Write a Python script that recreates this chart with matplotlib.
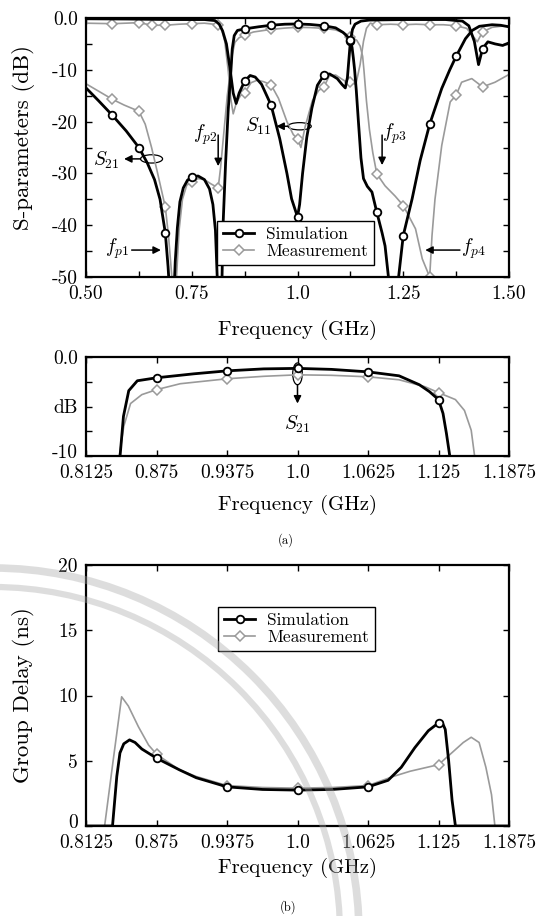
import numpy as np
import matplotlib
matplotlib.use("Agg")
import matplotlib.pyplot as plt
from matplotlib.patches import Ellipse, Arc
from matplotlib.transforms import ScaledTranslation

plt.rcParams["font.family"] = ["cmr10", "DejaVu Serif"]
plt.rcParams["mathtext.fontset"] = "cm"
plt.rcParams["axes.unicode_minus"] = False
plt.rcParams["axes.formatter.use_mathtext"] = True

# ---------------- (a) S-parameters, wide band ----------------
s21_sim_f = [0.500, 0.530, 0.5625, 0.595, 0.625, 0.645, 0.662, 0.675, 0.6875, 0.694,
             0.697, 0.7025, 0.707, 0.711, 0.716, 0.722, 0.730, 0.740, 0.750, 0.765,
             0.780, 0.792, 0.800, 0.806, 0.8125, 0.818, 0.824, 0.830, 0.836, 0.8427,
             0.8457, 0.8504, 0.858, 0.875, 0.908, 0.9375, 0.970, 1.000, 1.030, 1.0625,
             1.090, 1.108, 1.117, 1.125, 1.129, 1.132, 1.135, 1.139, 1.144, 1.150,
             1.156, 1.165, 1.176, 1.1875, 1.200, 1.207, 1.215, 1.227, 1.239, 1.250,
             1.271, 1.290, 1.3125, 1.341, 1.360, 1.375, 1.397, 1.413, 1.430, 1.460,
             1.480, 1.500]
s21_sim_db = [-13.5, -16.0, -18.8, -21.8, -25.0, -28.0, -31.2, -35.0, -41.5, -48.0,
              -52.0, -70.0, -55.0, -47.0, -40.5, -35.5, -32.8, -31.3, -30.7, -30.5,
              -31.2, -33.0, -36.0, -41.0, -55.0, -65.0, -40.0, -28.0, -18.0, -10.0,
              -6.0, -3.4, -2.4, -2.1, -1.7, -1.4, -1.2, -1.15, -1.25, -1.5,
              -1.9, -2.8, -3.5, -4.3, -5.7, -7.7, -10.0, -14.0, -20.0, -27.0,
              -31.0, -32.5, -33.6, -37.5, -41.5, -44.0, -50.0, -70.0, -50.0, -42.0,
              -34.9, -27.5, -20.5, -13.6, -10.0, -7.4, -4.0, -2.4, -1.6, -1.3,
              -1.4, -1.7]
s21_sim_marks = [0.5625, 0.625, 0.6875, 0.75, 0.875, 0.9375, 1.0, 1.0625, 1.125,
                 1.1875, 1.25, 1.3125, 1.375]

s21_meas_f = [0.500, 0.5625, 0.590, 0.625, 0.640, 0.655, 0.668, 0.6875, 0.695, 0.703,
              0.708, 0.714, 0.720, 0.728, 0.738, 0.750, 0.765, 0.780, 0.795, 0.8125,
              0.818, 0.826, 0.834, 0.8395, 0.842, 0.846, 0.852, 0.862, 0.875, 0.896,
              0.9375, 0.970, 1.000, 1.030, 1.0625, 1.090, 1.113, 1.125, 1.140, 1.148,
              1.154, 1.157, 1.163, 1.170, 1.178, 1.1875, 1.207, 1.231, 1.250, 1.279,
              1.295, 1.3125, 1.318, 1.325, 1.341, 1.361, 1.375, 1.388, 1.412, 1.4375,
              1.467, 1.500]
s21_meas_db = [-12.7, -15.7, -16.8, -18.0, -20.5, -25.0, -29.5, -36.5, -42.0, -50.0,
               -58.0, -50.0, -41.0, -35.0, -32.3, -31.6, -31.0, -31.2, -32.0, -32.8,
               -29.0, -22.0, -15.0, -11.5, -10.0, -7.0, -4.7, -3.8, -3.3, -2.7,
               -2.2, -1.95, -1.8, -1.85, -2.0, -2.3, -3.0, -3.6, -4.3, -5.4,
               -7.4, -10.0, -16.0, -21.5, -26.0, -30.1, -32.4, -34.4, -36.2, -40.7,
               -46.5, -50.0, -42.0, -35.0, -24.6, -16.2, -14.9, -12.4, -11.7, -13.3,
               -12.4, -10.9]
s21_meas_marks = [0.5625, 0.625, 0.6875, 0.75, 0.8125, 0.875, 0.9375, 1.0, 1.0625,
                  1.125, 1.1875, 1.25, 1.3125, 1.375, 1.4375]

s11_sim_f = [0.500, 0.600, 0.700, 0.780, 0.805, 0.815, 0.823, 0.832, 0.840, 0.848,
             0.855, 0.862, 0.875, 0.888, 0.900, 0.915, 0.9375, 0.958, 0.975, 0.986,
             1.000, 1.005, 1.012, 1.022, 1.034, 1.047, 1.0625, 1.076, 1.094, 1.105,
             1.113, 1.118, 1.122, 1.125, 1.130, 1.136, 1.150, 1.170, 1.250, 1.350,
             1.390, 1.405, 1.418, 1.428, 1.4375, 1.450, 1.467, 1.485, 1.500]
s11_sim_db = [-0.15, -0.2, -0.3, -0.3, -0.5, -1.2, -2.5, -5.0, -9.5, -14.5,
              -16.5, -14.5, -12.2, -11.1, -11.4, -12.8, -16.8, -23.3, -30.0, -34.9,
              -38.4, -36.0, -30.0, -23.0, -17.4, -13.0, -11.0, -10.8, -11.7, -12.8,
              -13.5, -11.5, -7.5, -4.5, -2.2, -1.2, -0.6, -0.4, -0.3, -0.3,
              -0.6, -1.5, -4.5, -9.0, -5.9, -4.6, -5.0, -5.3, -4.8]
s11_sim_marks = [0.875, 0.9375, 1.0, 1.0625, 1.125, 1.4375]

s11_meas_f = [0.500, 0.5625, 0.625, 0.65625, 0.6875, 0.720, 0.750, 0.780, 0.8125, 0.820,
              0.828, 0.836, 0.843, 0.848, 0.855, 0.865, 0.875, 0.890, 0.905, 0.920,
              0.9375, 0.955, 0.975, 0.990, 1.000, 1.008, 1.018, 1.035, 1.050, 1.0625,
              1.075, 1.090, 1.105, 1.115, 1.125, 1.138, 1.148, 1.156, 1.163, 1.172,
              1.1875, 1.220, 1.250, 1.280, 1.3125, 1.345, 1.375, 1.400, 1.415, 1.425,
              1.4375, 1.460, 1.480, 1.500]
s11_meas_db = [-1.0, -1.1, -0.9, -1.4, -1.4, -1.2, -1.1, -1.0, -1.3, -2.0,
               -4.5, -10.0, -16.0, -18.5, -16.5, -15.0, -14.5, -12.5, -12.0, -12.3,
               -12.9, -15.5, -20.0, -22.5, -23.3, -25.0, -21.0, -16.0, -14.0, -13.3,
               -11.2, -11.0, -11.8, -12.3, -12.4, -12.8, -9.0, -4.5, -2.0, -1.0,
               -1.3, -1.2, -1.3, -1.2, -1.3, -1.3, -1.5, -2.0, -3.5, -4.6,
               -2.7, -1.8, -1.6, -1.5]
s11_meas_marks = [0.5625, 0.625, 0.65625, 0.6875, 0.75, 0.8125, 0.875, 0.9375, 1.0,
                  1.0625, 1.125, 1.1875, 1.25, 1.3125, 1.375, 1.4375]

# ---------------- (b) group delay ----------------
gd_sim_f = [0.8125, 0.836, 0.8398, 0.8426, 0.846, 0.8511, 0.856, 0.862, 0.875, 0.8954,
            0.9102, 0.9375, 0.969, 1.000, 1.031, 1.0625, 1.0803, 1.092, 1.104, 1.116,
            1.125, 1.128, 1.131, 1.134, 1.137, 1.140, 1.1875]
gd_sim_ns = [0.0, 0.0, 3.8, 5.6, 6.3, 6.6, 6.4, 5.9, 5.2, 4.3,
             3.7, 3.0, 2.8, 2.75, 2.8, 3.0, 3.5, 4.5, 6.0, 7.3,
             7.9, 8.0, 7.4, 5.0, 2.0, 0.0, 0.0]
gd_meas_f = [0.8125, 0.829, 0.8367, 0.8441, 0.850, 0.859, 0.868, 0.875, 0.8954, 0.910,
             0.9375, 0.969, 1.000, 1.031, 1.0625, 1.085, 1.100, 1.125, 1.138, 1.147,
             1.154, 1.161, 1.167, 1.172, 1.175, 1.1875]
gd_meas_ns = [0.0, 0.0, 5.1, 9.9, 9.2, 7.6, 6.2, 5.5, 4.3, 3.8,
              3.1, 2.95, 2.9, 2.95, 3.1, 3.8, 4.2, 4.7, 5.7, 6.4,
              6.8, 6.4, 4.5, 2.4, 0.0, 0.0]
gd_marks = [0.875, 0.9375, 1.0, 1.0625, 1.125]

band_ticks = [0.8125, 0.875, 0.9375, 1.0, 1.0625, 1.125, 1.1875]
band_labels = ["0.8125", "0.875", "0.9375", "1.0", "1.0625", "1.125", "1.1875"]
wide_ticks = [0.5, 0.625, 0.75, 0.875, 1.0, 1.125, 1.25, 1.375, 1.5]
wide_labels = ["0.50", "", "0.75", "", "1.0", "", "1.25", "", "1.50"]
sp_ticks = [0, -5, -10, -15, -20, -25, -30, -35, -40, -45, -50]
sp_labels = ["0.0", "", "-10", "", "-20", "", "-30", "", "-40", "", "-50"]
zoom_ticks = [0, -2.5, -5, -7.5, -10]
zoom_labels = ["0.0", "", "dB", "", "-10"]
gd_ticks = [0, 5, 10, 15, 20]
gd_labels = ["0", "5", "10", "15", "20"]

W, H = 542, 916
fig = plt.figure(figsize=(W / 100, H / 100), dpi=100)


def axes_px(left, top, right, bottom):
    return fig.add_axes([left / W, 1 - bottom / H, (right - left) / W, (bottom - top) / H])


def marks_at(freq, marks):
    f = np.asarray(freq)
    return [int(np.argmin(np.abs(f - m))) for m in marks]


def lift(label, px):
    label.set_transform(label.get_transform() + ScaledTranslation(0, px / 100, fig.dpi_scale_trans))


SIM = dict(color="black", lw=2.0, marker="o", ms=5.5, mfc="white", mec="black", mew=1.3)
MEAS = dict(color="#9a9a9a", lw=1.2, marker="D", ms=4.8, mfc="white", mec="#9a9a9a", mew=1.1)
TICKFS = 14
LABELFS = 15
YLABELFS = 16.5


def style(ax):
    for sp in ax.spines.values():
        sp.set_linewidth(1.6)
    ax.tick_params(direction="in", top=True, right=True, length=4, width=1.0,
                   labelsize=TICKFS, pad=6)


# panel (a) top
ax1 = axes_px(86, 18, 509, 277)
ax1.plot(s11_meas_f, s11_meas_db, markevery=marks_at(s11_meas_f, s11_meas_marks), **MEAS)
l_meas, = ax1.plot(s21_meas_f, s21_meas_db, markevery=marks_at(s21_meas_f, s21_meas_marks),
                   label="Measurement", **MEAS)
ax1.plot(s11_sim_f, s11_sim_db, markevery=marks_at(s11_sim_f, s11_sim_marks), **SIM)
l_sim, = ax1.plot(s21_sim_f, s21_sim_db, markevery=marks_at(s21_sim_f, s21_sim_marks),
                  label="Simulation", **SIM)
ax1.set_xlim(0.5, 1.5)
ax1.set_ylim(-50, 0)
ax1.set_xticks(wide_ticks)
ax1.set_xticklabels(wide_labels)
ax1.set_yticks(sp_ticks)
ax1.set_yticklabels(sp_labels)
style(ax1)

arrow = dict(arrowstyle="-|>", color="black", lw=1.1, mutation_scale=11, shrinkA=0, shrinkB=0)
ax1.add_patch(Ellipse((0.655, -27.2), 0.052, 1.6, fill=False, ec="black", lw=0.9))
ax1.annotate("", xy=(0.590, -27.2), xytext=(0.629, -27.2), arrowprops=arrow)
ax1.text(0.548, -27.4, r"$S_{21}$", fontsize=14, ha="center", va="center")
ax1.add_patch(Ellipse((1.005, -20.9), 0.055, 1.4, fill=False, ec="black", lw=0.9))
ax1.annotate("", xy=(0.950, -20.9), xytext=(0.978, -20.9), arrowprops=arrow)
ax1.text(0.907, -21.0, r"$S_{11}$", fontsize=14, ha="center", va="center")
ax1.annotate("", xy=(0.677, -44.8), xytext=(0.608, -44.8), arrowprops=arrow)
ax1.text(0.573, -44.6, r"$f_{p1}$", fontsize=14, ha="center", va="center")
ax1.annotate("", xy=(0.8125, -28.6), xytext=(0.8125, -22.6), arrowprops=arrow)
ax1.text(0.782, -22.6, r"$f_{p2}$", fontsize=14, ha="center", va="center")
ax1.annotate("", xy=(1.200, -28.4), xytext=(1.200, -22.6), arrowprops=arrow)
ax1.text(1.228, -22.4, r"$f_{p3}$", fontsize=14, ha="center", va="center")
ax1.annotate("", xy=(1.302, -44.8), xytext=(1.384, -44.8), arrowprops=arrow)
ax1.text(1.415, -44.6, r"$f_{p4}$", fontsize=14, ha="center", va="center")

LEG = dict(loc="upper left", fontsize=12.5, frameon=True, fancybox=False, framealpha=1,
           edgecolor="black", handlelength=1.8, handletextpad=0.7, labelspacing=0.05,
           borderpad=0.35, borderaxespad=0)
leg1 = ax1.legend(handles=[l_sim, l_meas], bbox_to_anchor=((217 - 86) / 423, (277 - 221) / 259), **LEG)
leg1.get_frame().set_linewidth(1.0)

# panel (a) bottom: passband detail
ax2 = axes_px(86, 357, 509, 456)
ax2.plot(s21_meas_f, s21_meas_db, markevery=marks_at(s21_meas_f, s21_meas_marks), **MEAS)
ax2.plot(s21_sim_f, s21_sim_db, markevery=marks_at(s21_sim_f, s21_sim_marks), **SIM)
ax2.set_xlim(0.8125, 1.1875)
ax2.set_ylim(-10, 0)
ax2.set_xticks(band_ticks)
ax2.set_xticklabels(band_labels)
ax2.set_yticks(zoom_ticks)
ax2.set_yticklabels(zoom_labels)
style(ax2)
ax2.add_patch(Ellipse((1.0, -1.7), 0.0085, 2.2, fill=False, ec="black", lw=0.9))
ax2.annotate("", xy=(1.0, -4.7), xytext=(1.0, -2.8), arrowprops=arrow)
ax2.text(1.0, -6.8, r"$S_{21}$", fontsize=14, ha="center", va="center")
lift(ax2.get_yticklabels()[-1], 5)

# panel (b): group delay
ax3 = axes_px(86, 565, 509, 826)
l3m, = ax3.plot(gd_meas_f, gd_meas_ns, markevery=marks_at(gd_meas_f, gd_marks),
                label="Measurement", **MEAS)
l3s, = ax3.plot(gd_sim_f, gd_sim_ns, markevery=marks_at(gd_sim_f, gd_marks),
                label="Simulation", **SIM)
ax3.set_xlim(0.8125, 1.1875)
ax3.set_ylim(0, 20)
ax3.set_xticks(band_ticks)
ax3.set_xticklabels(band_labels)
ax3.set_yticks(gd_ticks)
ax3.set_yticklabels(gd_labels)
style(ax3)
lift(ax3.get_yticklabels()[0], 5)
leg3 = ax3.legend(handles=[l3s, l3m], bbox_to_anchor=((218 - 86) / 423, (826 - 607) / 261), **LEG)
leg3.get_frame().set_linewidth(1.0)

# axis titles and captions
fig.text(298 / W, 1 - 330 / H, "Frequency (GHz)", ha="center", va="center", fontsize=LABELFS)
fig.text(298 / W, 1 - 505 / H, "Frequency (GHz)", ha="center", va="center", fontsize=LABELFS)
fig.text(298 / W, 1 - 868 / H, "Frequency (GHz)", ha="center", va="center", fontsize=LABELFS)
fig.text(24 / W, 1 - 138 / H, "S-parameters (dB)", rotation=90, ha="center", va="center",
         fontsize=YLABELFS)
fig.text(24 / W, 1 - 695 / H, "Group Delay (ns)", rotation=90, ha="center", va="center",
         fontsize=YLABELFS)
fig.text(286 / W, 1 - 540 / H, "(a)", ha="center", va="center", fontsize=9)
fig.text(288 / W, 1 - 907 / H, "(b)", ha="center", va="center", fontsize=9)

# faint seal rings in the lower-left corner
for r, lw in ((366, 5.5), (347, 4.5)):
    fig.add_artist(Arc((-7 / W, 1 - 934 / H), 2 * r / W, 2 * r / H, theta1=0, theta2=90,
                       transform=fig.transFigure, color="#a8a8a8", alpha=0.38, lw=lw,
                       zorder=10))

fig.savefig("out.png", dpi=100)
